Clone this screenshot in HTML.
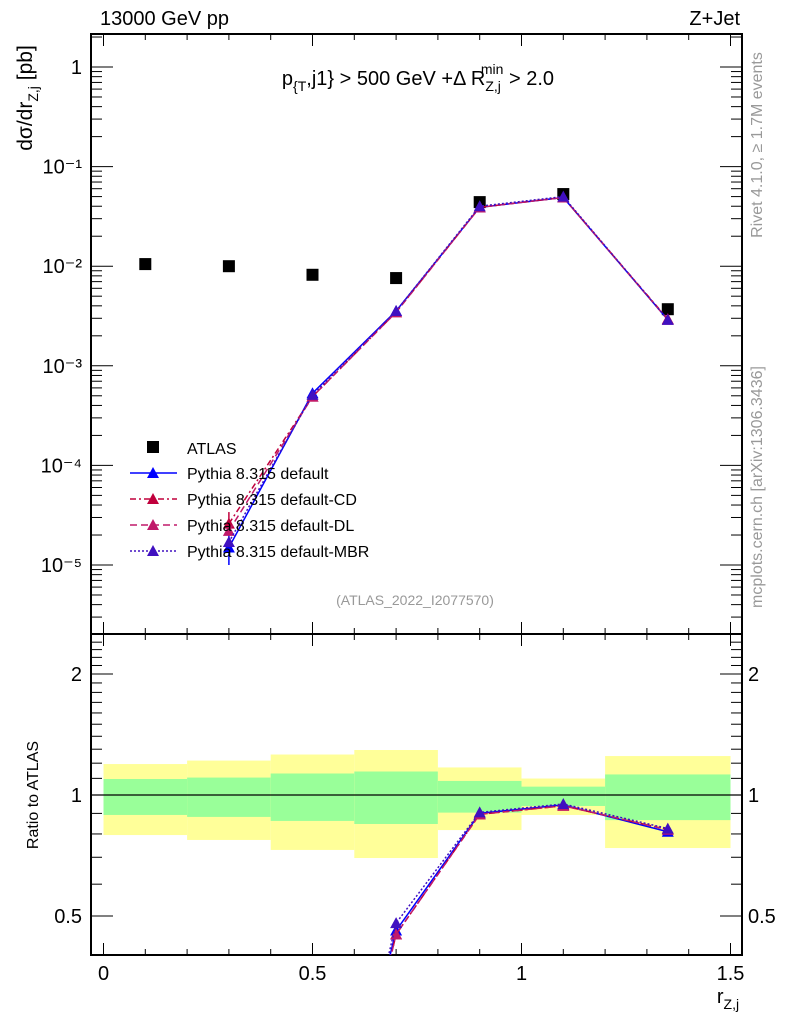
<!DOCTYPE html>
<html><head><meta charset="utf-8"><style>
html,body{margin:0;background:#fff;overflow:hidden;width:786px;height:1024px}
svg{display:block;font-family:"Liberation Sans",Arial,sans-serif}
</style></head><body>
<svg id="c" width="786" height="1024" viewBox="0 0 786 1024">
<g id="bands"></g>
<g id="axes"></g>
<g id="series"></g>
<text x="100" y="25" font-size="20">13000 GeV pp</text>
<text x="740" y="25" font-size="20" text-anchor="end">Z+Jet</text>
<text x="418" y="85" font-size="20" text-anchor="middle">p<tspan font-size="14" dy="6">{T</tspan><tspan dy="-6">,j1} &gt; 500 GeV +Δ R</tspan><tspan font-size="14" dy="6">Z,j</tspan><tspan font-size="14" dx="-20" dy="-17">min</tspan><tspan dy="11"> &gt; 2.0</tspan></text>
<text x="415" y="605" font-size="14" fill="#999" text-anchor="middle">(ATLAS_2022_I2077570)</text>
<text transform="translate(32,98) rotate(-90)" font-size="21" text-anchor="middle">dσ/dr<tspan font-size="14" dy="6">Z,j</tspan><tspan dy="-6"> [pb]</tspan></text>
<text transform="translate(38,795) rotate(-90)" font-size="16" text-anchor="middle">Ratio to ATLAS</text>
<text x="728" y="1003" font-size="20" text-anchor="middle">r<tspan font-size="14" dy="6">Z,j</tspan></text>
<text transform="translate(762,145) rotate(-90)" font-size="16" fill="#999" text-anchor="middle">Rivet 4.1.0, ≥ 1.7M events</text>
<text transform="translate(762,487) rotate(-90)" font-size="16" fill="#999" text-anchor="middle">mcplots.cern.ch [arXiv:1306.3436]</text>
<g id="legend"></g>
</svg>
<script>
const binEdges=[0,0.2,0.4,0.6,0.8,1.0,1.2,1.5];
const xPoints=[0.1,0.3,0.5,0.7,0.9,1.1,1.35];
const atlas=[0.0105,0.0100,0.0082,0.0076,0.044,0.053,0.0037];
const yellowHi=[1.194,1.218,1.261,1.294,1.171,1.099,1.25];
const greenHi=[1.096,1.105,1.131,1.144,1.084,1.049,1.125];
const greenLo=[0.892,0.882,0.862,0.847,0.904,0.939,0.866];
const yellowLo=[0.795,0.773,0.730,0.697,0.818,0.892,0.738];
const mcX=[0.3,0.5,0.7,0.9,1.1,1.35];
const pyDefault=[1.5e-5,5.3e-4,3.55e-3,0.039,0.049,0.0029];
const pyCD=[2.6e-5,4.9e-4,3.45e-3,0.039,0.049,0.00295];
const pyDL=[2.2e-5,4.9e-4,3.45e-3,0.039,0.049,0.0029];
const pyMBR=[1.7e-5,5.1e-4,3.55e-3,0.040,0.050,0.0029];
const errDefault=[[1.0e-5,2.0e-5]];
const errCD=[[2.0e-5,3.4e-5]];
const ratioDefault=[0.0014,0.065,0.46,0.90,0.945,0.81];
const ratioCD=[0.0025,0.06,0.45,0.895,0.94,0.82];
const ratioDL=[0.0021,0.06,0.45,0.895,0.94,0.82];
const ratioMBR=[0.0016,0.062,0.48,0.905,0.95,0.825];
const xTicks=[0,0.5,1,1.5];
const xTickLabels=["0","0.5","1","1.5"];
const yDecades=[0,-1,-2,-3,-4,-5];
const yDecadeLabels=["1","10⁻¹","10⁻²","10⁻³","10⁻⁴","10⁻⁵"];
const rTicks=[0.5,1,2];
const rTickLabels=["0.5","1","2"];

const NS="http://www.w3.org/2000/svg";
const L=91,R=742,T=34,M=634,B=955;
const X=v=>103.5+v*418;
const Y=v=>67-99.6*Math.log10(v);
const RY=r=>795-121*Math.log2(r);
function el(tag,attrs,parent){const e=document.createElementNS(NS,tag);for(const k in attrs)e.setAttribute(k,attrs[k]);parent.appendChild(e);return e;}
const bands=document.getElementById('bands'),axes=document.getElementById('axes'),ser=document.getElementById('series'),leg=document.getElementById('legend');

for(let i=0;i<7;i++){
 const x0=X(binEdges[i]),x1=X(binEdges[i+1]);
 let r=el('rect',{x:x0,y:RY(yellowHi[i]),width:x1-x0,height:RY(yellowLo[i])-RY(yellowHi[i]),fill:'#ffff99'},bands);
 
 
 r=el('rect',{x:x0,y:RY(greenHi[i]),width:x1-x0,height:RY(greenLo[i])-RY(greenHi[i]),fill:'#99ff99'},bands);
 
 
}
el('line',{x1:L,x2:R,y1:RY(1),y2:RY(1),stroke:'#000','stroke-width':1.3},axes);

el('rect',{x:L,y:T,width:R-L,height:M-T,fill:'none',stroke:'#000','stroke-width':2},axes);
el('rect',{x:L,y:M,width:R-L,height:B-M,fill:'none',stroke:'#000','stroke-width':2},axes);
for(let k=0;k<=15;k++){const v=k/10,x=X(v),maj=k%5==0,len=maj?12:6;
 [[T,1],[M,-1],[M,1],[B,-1]].forEach(([y,d])=>el('line',{x1:x,x2:x,y1:y,y2:y+d*len,stroke:'#000','stroke-width':1},axes));}
xTicks.forEach((v,i)=>{const t=el('text',{x:X(v),y:980,'font-size':20,'text-anchor':'middle'},axes);t.textContent=xTickLabels[i];
 
 });
for(let d=-6;d<=0;d++){for(let m=1;m<10;m++){const v=m*Math.pow(10,d),y=Y(v);if(y<T||y>M)continue;const len=m==1?22:11;
 el('line',{x1:L,x2:L+len,y1:y,y2:y,stroke:'#000'},axes);el('line',{x1:R,x2:R-len,y1:y,y2:y,stroke:'#000'},axes);}}
yDecades.forEach((d,i)=>{const t=el('text',{x:82,y:Y(Math.pow(10,d))+7,'font-size':20,'text-anchor':'end'},axes);t.textContent=yDecadeLabels[i];
 
 });
for(let r=0.4;r<=2.5;r+=0.1){const y=RY(r);if(y<M||y>B)continue;const maj=[0.5,1,2].some(q=>Math.abs(q-r)<1e-6);const len=maj?22:11;
 el('line',{x1:L,x2:L+len,y1:y,y2:y,stroke:'#000'},axes);el('line',{x1:R,x2:R-len,y1:y,y2:y,stroke:'#000'},axes);}
rTicks.forEach((r,i)=>{let t=el('text',{x:82,y:RY(r)+7,'font-size':20,'text-anchor':'end'},axes);t.textContent=rTickLabels[i];
 
 
 t=el('text',{x:748,y:RY(r)+7,'font-size':20},axes);t.textContent=rTickLabels[i];
 
 });

const clipM=el('clipPath',{id:'cm'},document.getElementById('c'));el('rect',{x:L,y:T,width:R-L,height:M-T},clipM);
const clipR=el('clipPath',{id:'cr'},document.getElementById('c'));el('rect',{x:L,y:M,width:R-L,height:B-M},clipR);
const gM=el('g',{'clip-path':'url(#cm)'},ser),gR=el('g',{'clip-path':'url(#cr)'},ser);

atlas.forEach((v,i)=>{const r=el('rect',{x:X(xPoints[i])-6,y:Y(v)-6,width:12,height:12,fill:'#000'},gM);
 
 });

function tri(g,x,y,c){return el('path',{d:`M${x-6},${y+5}L${x+6},${y+5}L${x},${y-6}Z`,fill:c},g);}
const series=[
 {name:'default',vals:pyDefault,rat:ratioDefault,c:'#0000ff',dash:'',err:errDefault},
 {name:'default-CD',vals:pyCD,rat:ratioCD,c:'#c0003c',dash:'6,3,2,3',err:errCD},
 {name:'default-DL',vals:pyDL,rat:ratioDL,c:'#c01a6a',dash:'7,4',err:[]},
 {name:'default-MBR',vals:pyMBR,rat:ratioMBR,c:'#4010c0',dash:'2,2',err:[]}];
series.forEach((s,si)=>{
 const p=el('polyline',{points:s.vals.map((v,i)=>X(mcX[i])+','+Y(v)).join(' '),fill:'none',stroke:s.c,'stroke-width':1.5,'stroke-dasharray':s.dash},gM);
 
 
 s.err.forEach((e,i)=>{el('line',{x1:X(mcX[i]),x2:X(mcX[i]),y1:Y(e[0]),y2:Y(e[1]),stroke:s.c,'stroke-width':1.5},gM);});
 s.vals.forEach((v,i)=>{const t=tri(gM,X(mcX[i]),Y(v),s.c);
  
  });
 const q=el('polyline',{points:s.rat.map((v,i)=>X(mcX[i])+','+RY(v)).join(' '),fill:'none',stroke:s.c,'stroke-width':1.5,'stroke-dasharray':s.dash},gR);
 
 
 s.rat.forEach((v,i)=>{const t=tri(gR,X(mcX[i]),RY(v),s.c);
  
  });
});

let t=el('rect',{x:147,y:441,width:12,height:12,fill:'#000'},leg);
t=el('text',{x:187,y:454,'font-size':16},leg);t.textContent='ATLAS';


series.forEach((s,i)=>{const y=473+i*26;
 el('line',{x1:130,x2:177,y1:y,y2:y,stroke:s.c,'stroke-width':1.5,'stroke-dasharray':s.dash},leg);
 tri(leg,153,y,s.c);
 const tx=el('text',{x:187,y:y+6,'font-size':16},leg);tx.textContent='Pythia 8.315 '+s.name;
 
 });
</script>
</body></html>
